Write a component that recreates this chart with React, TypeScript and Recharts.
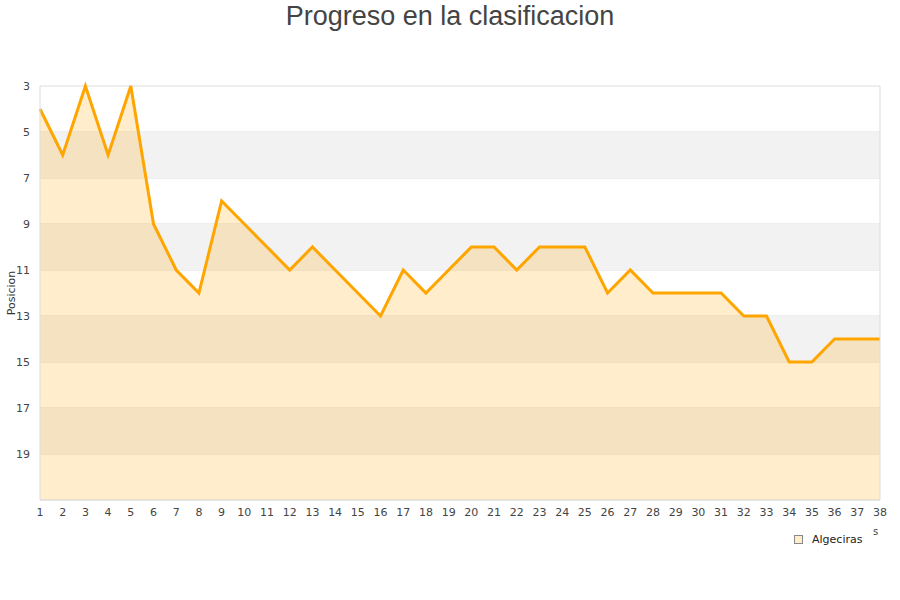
import React from 'react';
import {
  ComposedChart,
  Area,
  XAxis,
  YAxis,
  CartesianGrid,
  ReferenceArea,
  ReferenceLine,
} from 'recharts';

const jornadas = [1, 2, 3, 4, 5, 6, 7, 8, 9, 10, 11, 12, 13, 14, 15, 16, 17, 18, 19, 20, 21, 22, 23, 24, 25, 26, 27, 28, 29, 30, 31, 32, 33, 34, 35, 36, 37, 38];
const posiciones = [4, 6, 3, 6, 3, 9, 11, 12, 8, 9, 10, 11, 10, 11, 12, 13, 11, 12, 11, 10, 10, 11, 10, 10, 10, 12, 11, 12, 12, 12, 12, 13, 13, 15, 15, 14, 14, 14];
const yTicks = [3, 5, 7, 9, 11, 13, 15, 17, 19];
const bands = [[5, 7], [9, 11], [13, 15], [17, 19]];
const title = 'Progreso en la clasificacion';
const yLabel = 'Posicion';
const seriesName = 'Algeciras';

const data = jornadas.map((j, i) => ({ j, pos: posiciones[i] }));

const FONT = '"DejaVu Sans", Verdana, sans-serif';

export default function App() {
  return (
    <div style={{ position: 'absolute', left: 0, top: 0, width: 900, height: 600, background: '#fff' }}>
      <ComposedChart width={900} height={600} data={data} margin={{ top: 86, right: 20, left: 0, bottom: 0 }}>
        {bands.map(([a, b]) => (
          <ReferenceArea key={a} y1={a} y2={b} fill="#f2f2f2" fillOpacity={1} stroke="none" ifOverflow="hidden" />
        ))}
        <CartesianGrid vertical={false} stroke="#dddddd" />
        <XAxis
          dataKey="j"
          type="number"
          domain={[1, 38]}
          ticks={jornadas}
          interval={0}
          height={100}
          tickLine={false}
          axisLine={{ stroke: '#dddddd' }}
          tick={{ fontSize: 11, fill: '#444', fontFamily: FONT }}
        />
        <YAxis
          type="number"
          domain={[3, 21]}
          reversed
          ticks={yTicks}
          interval={0}
          width={40}
          tickLine={false}
          tickMargin={4}
          axisLine={{ stroke: '#dddddd' }}
          tick={{ fontSize: 11, fill: '#444', fontFamily: FONT }}
        />
        <ReferenceLine x={38} stroke="#dddddd" />
        <Area
          type="linear"
          dataKey="pos"
          baseValue={21}
          stroke="#FFA500"
          strokeWidth={3}
          fill="#FFA500"
          fillOpacity={0.2}
          dot={false}
          activeDot={false}
          isAnimationActive={false}
        />
      </ComposedChart>
      <svg width={900} height={600} style={{ position: 'absolute', left: 0, top: 0, pointerEvents: 'none' }}>
        <text x={450} y={25} textAnchor="middle" fontSize={27} fill="#444" fontFamily='"Liberation Sans", Arial, sans-serif'>
          {title}
        </text>
        <text
          x={15}
          y={293}
          textAnchor="middle"
          fontSize={11}
          fill="#333"
          fontFamily={FONT}
          transform="rotate(-90 15 293)"
        >
          {yLabel}
        </text>
        <text x={873} y={535} fontSize={10} fill="#444" fontFamily={FONT}>s</text>
        <rect x={794.5} y={535.5} width={8} height={8} fill="#FFEDCC" stroke="#888" strokeWidth={1} />
        <text x={812} y={543} fontSize={11} fill="#222" fontFamily={FONT}>
          {seriesName}
        </text>
      </svg>
    </div>
  );
}
